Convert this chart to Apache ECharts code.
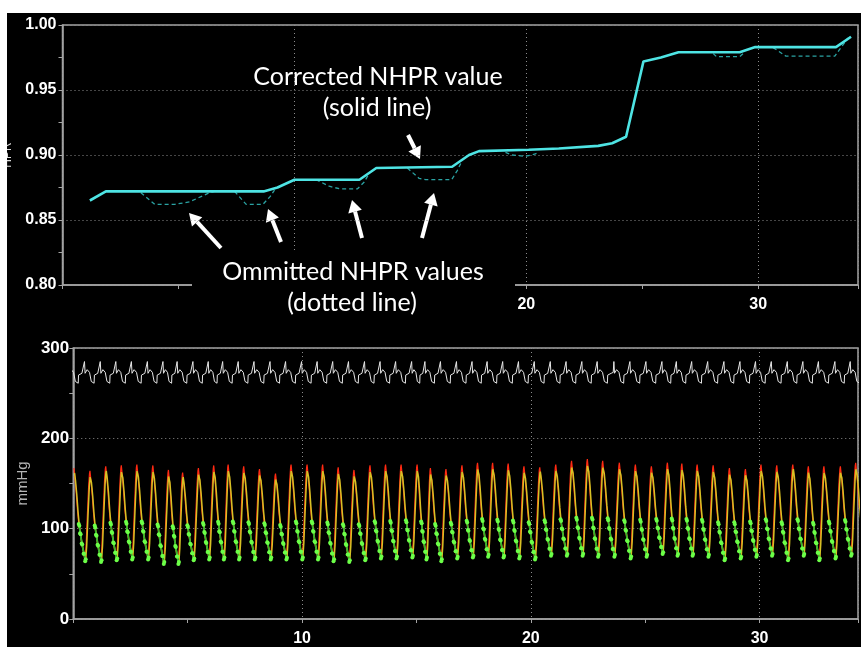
<!DOCTYPE html>
<html>
<head>
<meta charset="utf-8">
<script src="https://cdn.jsdelivr.net/npm/echarts@6/dist/echarts.min.js"></script>
<style>
  html, body { margin: 0; padding: 0; background: #fff; }
  #chart { position: absolute; left: 7px; top: 13px; width: 854px; height: 634px; background: #000; }
</style>
</head>
<body>
<div id="chart"></div>
<script>
// top panel: corrected NHPR (solid)
var nhprTime = [1.18, 1.87, 8.67, 9.27, 10.0, 12.8, 13.53, 16.8, 17.53, 17.96, 20.1, 21.4, 23.1, 23.7, 24.3, 25.05, 25.8, 26.56, 29.2, 29.87, 33.35, 34.0];
var nhprValue = [0.865, 0.872, 0.872, 0.875, 0.881, 0.881, 0.890, 0.891, 0.900, 0.903, 0.904, 0.905, 0.907, 0.909, 0.914, 0.972, 0.975, 0.979, 0.979, 0.983, 0.983, 0.991];

// omitted NHPR values (dotted), null = break between dips
var omittedTime = [3.38, 3.98, 4.84, 5.48, 6.34, 6.56, null,
  7.42, 7.92, 8.64, 8.95, 9.14, null,
  10.93, 11.5, 11.94, 12.72, 13.0, 13.23, null,
  14.87, 15.38, 15.66, 16.78, 17.02, 17.24, null,
  19.1, 19.38, 19.96, 20.39, 20.54, null,
  28.06, 28.2, 29.2, 29.35, null,
  30.64, 31.2, 33.3, 33.5, 33.87];
var omittedValue = [0.871, 0.862, 0.862, 0.864, 0.871, 0.872, null,
  0.872, 0.862, 0.862, 0.868, 0.873, null,
  0.881, 0.876, 0.874, 0.874, 0.879, 0.886, null,
  0.890, 0.882, 0.881, 0.881, 0.888, 0.896, null,
  0.902, 0.900, 0.899, 0.9008, 0.9025, null,
  0.978, 0.9756, 0.9756, 0.978, null,
  0.9826, 0.976, 0.976, 0.981, 0.990];

// bottom panel: per-beat systolic peak time (s), peak and following trough (mmHg)
var beatTime = [0.03, 0.73, 1.42, 2.10, 2.78, 3.48, 4.16, 4.78, 5.47, 6.14, 6.77, 7.45, 8.14, 8.84, 9.52,
  10.22, 10.90, 11.58, 12.27, 12.97, 13.65, 14.33, 15.03, 15.61, 16.29, 16.99, 17.67, 18.33, 19.01, 19.70,
  20.39, 21.09, 21.78, 22.47, 23.14, 23.87, 24.57, 25.27, 25.97, 26.60, 27.27, 27.97, 28.68, 29.38,
  30.06, 30.75, 31.45, 32.13, 32.81, 33.53, 34.20];
var paPeak = [167, 164, 169, 170, 171, 170, 165, 162, 167, 170, 171, 169, 166, 161, 171,
  171, 171, 168, 165, 170, 171, 171, 171, 167, 166, 170, 173, 173, 172, 169, 168, 171, 175,
  177, 175, 173, 171, 169, 173, 172, 171, 170, 167, 166, 171, 170, 171, 169, 169, 169, 173];
var paTrough = [64, 63, 65, 66, 66, 61, 61, 65, 66, 66, 66, 66, 66, 66,
  66, 66, 64, 63, 65, 67, 67, 68, 66, 64, 67, 68, 69, 68, 67, 66, 70, 70,
  70, 69, 69, 67, 69, 72, 70, 70, 69, 65, 67, 69, 70, 65, 70, 65, 67, 70];

// one beat: phase 0 = peak, 1 = next peak; level 0 = trough, 1 = peak
var fallPhase = [0, 0.06, 0.14, 0.22, 0.30, 0.38, 0.48, 0.60, 0.70];
var paFall = [1, 0.90, 0.74, 0.55, 0.40, 0.30, 0.19, 0.08, 0];
var pdFall = [0.95, 0.87, 0.72, 0.53, 0.38, 0.29, 0.18, 0.08, 0.02];
var risePhase = [0.76, 0.84, 0.92, 0.97];
var paRise = [0.18, 0.52, 0.84, 0.97];
var pdRise = [0.17, 0.50, 0.81, 0.93];
var pdLag = 0.025;
var diastolicFrom = 0.30;

// ECG, phase 0 = R spike
var ecgLead = 0.24;
var ecgPhase = [0, 0.04, 0.10, 0.17, 0.24, 0.32, 0.41, 0.43, 0.46, 0.61, 0.63, 0.74, 0.84, 0.91, 0.96];
var ecgLevel = [285, 272, 274, 276, 275, 273, 273, 263, 261, 261, 270, 271, 272, 271, 273];

function pairs(xs, ys) {
    return xs.map(function (x, i) { return x === null ? ['-', '-'] : [x, ys[i]]; });
}

function periodOf(i) {
    return i + 1 < beatTime.length ? beatTime[i + 1] - beatTime[i] : beatTime[i] - beatTime[i - 1];
}

function pressure(fall, rise, lag) {
    var line = [], diast = [];
    for (var i = 0; i < beatTime.length; i++) {
        var t0 = beatTime[i] + lag, per = periodOf(i);
        var hi = paPeak[i];
        var lo = paTrough[Math.min(i, paTrough.length - 1)];
        var next = paPeak[Math.min(i + 1, paPeak.length - 1)];
        for (var k = 0; k < fallPhase.length; k++) {
            var p = [t0 + fallPhase[k] * per, lo + fall[k] * (hi - lo)];
            line.push(p);
            if (fallPhase[k] >= diastolicFrom) diast.push(p);
        }
        diast.push(['-', '-']);
        for (var j = 0; j < risePhase.length; j++) {
            line.push([t0 + risePhase[j] * per, lo + rise[j] * (next - lo)]);
        }
    }
    return {line: line, diast: diast};
}

function ecg() {
    var out = [];
    for (var i = 0; i < beatTime.length; i++) {
        var t0 = beatTime[i] - ecgLead, per = periodOf(i);
        for (var k = 0; k < ecgPhase.length; k++) out.push([t0 + ecgPhase[k] * per, ecgLevel[k]]);
    }
    return out;
}

var pa = pressure(paFall, paRise, 0);
var pd = pressure(pdFall, pdRise, pdLag);

var axisGray = '#a4a4a4';
var dotGray = '#8c8c8c';
var numFont = 'Liberation Sans';
var ox = 7, oy = 13;   // page offset of the black panel

function xAxis(gi) {
    return {
        type: 'value', gridIndex: gi, min: 0, max: 34.3, interval: 10,
        axisLine: {lineStyle: {color: axisGray, width: 1.5}},
        axisTick: {length: 4, lineStyle: {color: axisGray}},
        minorTick: {show: true, splitNumber: 2, length: 4, lineStyle: {color: axisGray}},
        splitLine: {lineStyle: {color: dotGray, type: [1, 3]}},
        axisLabel: {
            color: '#fff', fontWeight: 'bold', fontSize: 16, fontFamily: numFont, margin: 12,
            formatter: function (v) { return v > 0 && v % 10 === 0 ? String(v) : ''; }
        }
    };
}

function arrow(x1, y1, x2, y2) {
    x1 -= ox; x2 -= ox; y1 -= oy; y2 -= oy;
    var dx = x2 - x1, dy = y2 - y1, len = Math.sqrt(dx * dx + dy * dy);
    var ux = dx / len, uy = dy / len, bx = x2 - ux * 12, by = y2 - uy * 12;
    return {
        type: 'group', z: 120, children: [
            {type: 'line', shape: {x1: x1, y1: y1, x2: bx, y2: by}, style: {stroke: '#fff', lineWidth: 4}},
            {type: 'polygon', shape: {points: [[x2, y2], [bx - uy * 7, by + ux * 7], [bx + uy * 7, by - ux * 7]]}, style: {fill: '#fff'}}
        ]
    };
}

function note(text, x, y) {
    return {type: 'text', z: 120, x: x - ox, y: y - oy,
        style: {text: text, fill: '#fff', font: '25px Lato', align: 'center', verticalAlign: 'middle'}};
}

var option = {
    animation: false,
    backgroundColor: '#000',
    grid: [
        {left: 55.5, top: 12, right: 1.5, height: 260, show: true, borderColor: axisGray, borderWidth: 1.5},
        {left: 64, top: 335, right: 1.5, height: 272, show: true, borderColor: axisGray, borderWidth: 1.5}
    ],
    xAxis: [xAxis(0), xAxis(1)],
    yAxis: [
        {
            type: 'value', gridIndex: 0, min: 0.8, max: 1.0, interval: 0.05,
            axisLine: {show: true, lineStyle: {color: axisGray, width: 1.5}},
            axisTick: {show: true, length: 4, lineStyle: {color: axisGray}},
            minorTick: {show: true, splitNumber: 2, length: 4, lineStyle: {color: axisGray}},
            splitLine: {lineStyle: {color: dotGray, type: [1, 3]}},
            axisLabel: {color: '#fff', fontWeight: 'bold', fontSize: 16, fontFamily: numFont, margin: 6,
                formatter: function (v) { return v.toFixed(2); }}
        },
        {
            type: 'value', gridIndex: 1, min: 0, max: 300, interval: 100,
            name: 'mmHg', nameLocation: 'middle', nameGap: 40,
            nameTextStyle: {color: '#b4b4b4', fontSize: 15, fontFamily: numFont},
            axisLine: {show: true, lineStyle: {color: axisGray, width: 1.5}},
            axisTick: {show: true, length: 4, lineStyle: {color: axisGray}},
            minorTick: {show: true, splitNumber: 2, length: 4, lineStyle: {color: axisGray}},
            splitLine: {lineStyle: {color: dotGray, type: [1, 3]}},
            axisLabel: {color: '#fff', fontWeight: 'bold', fontSize: 17, fontFamily: numFont, margin: 4}
        }
    ],
    series: [
        {
            name: 'Omitted NHPR', type: 'line', xAxisIndex: 0, yAxisIndex: 0, symbol: 'none',
            data: pairs(omittedTime, omittedValue),
            lineStyle: {color: '#2aa3a3', width: 1.3, type: [4, 3]}
        },
        {
            name: 'Corrected NHPR', type: 'line', xAxisIndex: 0, yAxisIndex: 0, symbol: 'none',
            data: pairs(nhprTime, nhprValue),
            lineStyle: {color: '#4ee4e4', width: 2.6}
        },
        {
            name: 'ECG', type: 'line', xAxisIndex: 1, yAxisIndex: 1, symbol: 'none',
            data: ecg(), lineStyle: {color: '#e6e6e6', width: 1}
        },
        {
            name: 'Pa', type: 'line', xAxisIndex: 1, yAxisIndex: 1, symbol: 'none',
            data: pa.line, lineStyle: {color: '#ff2a12', width: 1.2}
        },
        {
            name: 'Pd', type: 'line', xAxisIndex: 1, yAxisIndex: 1, symbol: 'none',
            data: pd.line, lineStyle: {color: '#d6c225', width: 1.5}
        },
        {
            name: 'Pd diastole', type: 'line', xAxisIndex: 1, yAxisIndex: 1,
            data: pd.diast, showAllSymbol: true, symbol: 'circle', symbolSize: 4,
            lineStyle: {color: '#2fb52f', width: 1.2}, itemStyle: {color: '#6cff48'}
        },
        {
            name: 'Pa diastole', type: 'line', xAxisIndex: 1, yAxisIndex: 1,
            data: pa.diast, showAllSymbol: true, symbol: 'circle', symbolSize: 4,
            lineStyle: {color: '#2fb52f', width: 1.2}, itemStyle: {color: '#6cff48'}
        }
    ],
    graphic: [
        // top panel axis name, cut by the panel's left edge as in the source
        {type: 'text', z: 120, x: 6.5, y: 142, rotation: Math.PI / 2,
            style: {text: 'HPR', fill: '#ddd', font: '12px Liberation Sans', align: 'center', verticalAlign: 'bottom'}},
        {type: 'rect', z: 110, shape: {x: 192 - ox, y: 250 - oy, width: 323, height: 72}, style: {fill: '#000'}},
        note('Corrected NHPR value', 378, 77),
        note('(solid line)', 377, 108),
        note('Ommitted NHPR values', 353, 272),
        note('(dotted line)', 352, 303),
        arrow(408, 135, 420, 159),
        arrow(221, 248, 189, 213),
        arrow(281, 242, 268, 209),
        arrow(362, 238, 352, 200),
        arrow(422, 238, 434, 193)
    ]
};

var chart = echarts.init(document.getElementById('chart'));
chart.setOption(option);
window.addEventListener('resize', function () { chart.resize(); });
</script>
</body>
</html>
